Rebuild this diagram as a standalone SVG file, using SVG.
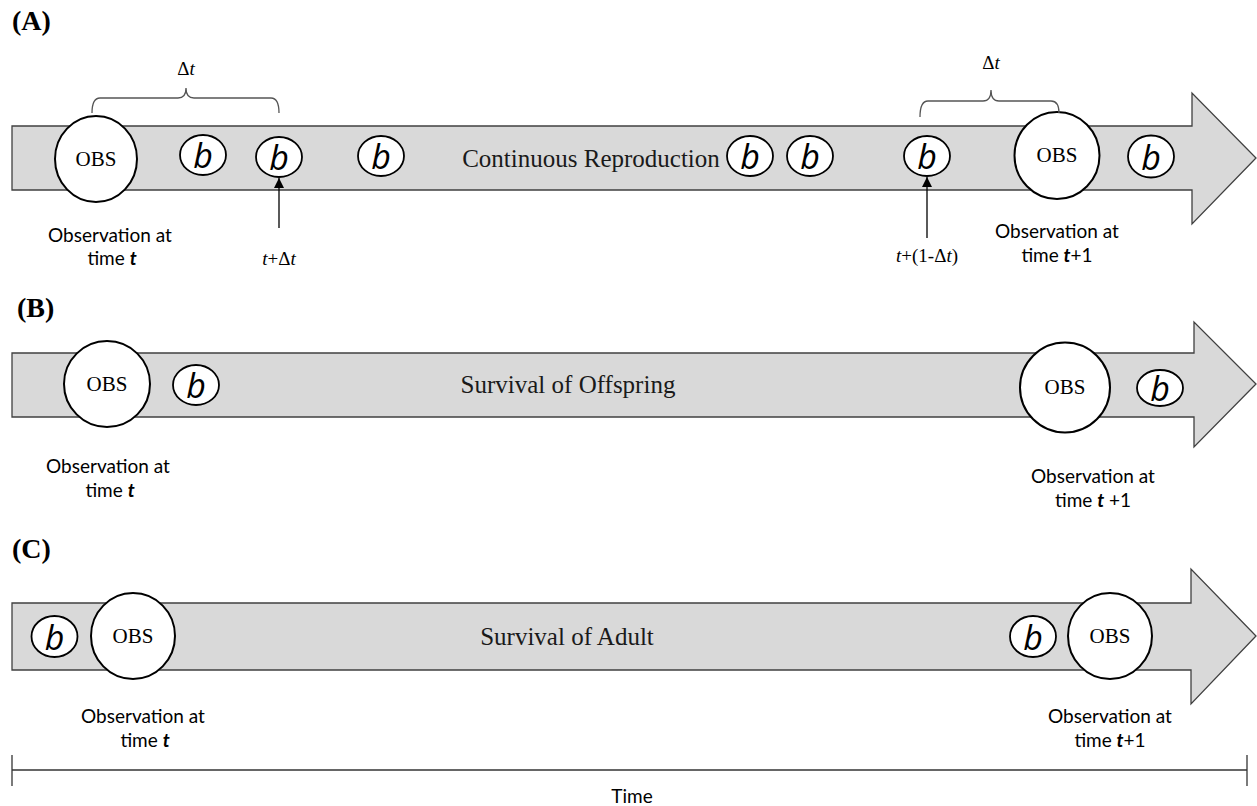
<svg xmlns="http://www.w3.org/2000/svg" width="1257" height="806" viewBox="0 0 1257 806">
<defs>
<style>
.band{fill:#d9d9d9;stroke:#404040;stroke-width:1.3}
.obs{fill:#fff;stroke:#000;stroke-width:2}
.bc{fill:#fff;stroke:#000;stroke-width:1.8}
.obst{font-family:"Liberation Serif",serif;font-size:21px;text-anchor:middle;fill:#000}
.bt{font-family:"Open Sans",sans-serif;font-style:italic;font-size:34px;text-anchor:middle;fill:#000}
.lbl{font-family:"Lato","Open Sans",sans-serif;font-size:19px;text-anchor:middle;fill:#000}
.ttl{font-family:"Liberation Serif",serif;font-size:25px;text-anchor:middle;fill:#1a1a1a}
.pn{font-family:"Liberation Serif",serif;font-weight:bold;font-size:28px;fill:#000}
.math{font-family:"Liberation Serif",serif;font-size:19px;text-anchor:middle;fill:#000}
.brace{fill:none;stroke:#555;stroke-width:1.3}
.conn{stroke:#000;stroke-width:1.3;fill:none}
</style>
<marker id="tri" viewBox="0 0 10 10" refX="10" refY="5" markerWidth="10" markerHeight="10" markerUnits="userSpaceOnUse" orient="auto">
<path d="M0,0 L10,5 L0,10 Z" fill="#000"/>
</marker>
</defs>
<rect width="1257" height="806" fill="#fff"/>

<!-- Panel labels -->
<text class="pn" x="12" y="30">(A)</text>
<text class="pn" x="17" y="317">(B)</text>
<text class="pn" x="12" y="558">(C)</text>

<!-- Band arrows -->
<g id="bandA"><path class="band" d="M12,126 L1192,126 L1192,93 L1256,158 L1192,224 L1192,190 L12,190 Z"/><text class="ttl" x="591" y="167">Continuous Reproduction</text></g>
<g id="bandB"><path class="band" d="M12,353 L1194,353 L1194,322 L1256,384 L1194,447 L1194,417 L12,417 Z"/><text class="ttl" x="568" y="393">Survival of Offspring</text></g>
<g id="bandC"><path class="band" d="M12,603 L1191,603 L1191,569 L1256,636 L1191,704 L1191,670 L12,670 Z"/><text class="ttl" x="567" y="645">Survival of Adult</text></g>

<!-- Panel A nodes -->
<g id="A-obs1"><ellipse class="obs" cx="96" cy="159" rx="41" ry="43"/><text class="obst" x="96" y="166">OBS</text></g>
<g id="A-b1"><ellipse class="bc" cx="203" cy="155" rx="23" ry="20"/><text class="bt" x="203" y="168">b</text></g>
<g id="A-b2"><ellipse class="bc" cx="279" cy="157" rx="23" ry="20"/><text class="bt" x="279" y="170">b</text></g>
<g id="A-b3"><ellipse class="bc" cx="381" cy="156" rx="23" ry="20"/><text class="bt" x="381" y="169">b</text></g>
<g id="A-b4"><ellipse class="bc" cx="750" cy="156" rx="23" ry="20"/><text class="bt" x="750" y="169">b</text></g>
<g id="A-b5"><ellipse class="bc" cx="810" cy="156" rx="23" ry="20"/><text class="bt" x="810" y="169">b</text></g>
<g id="A-b6"><ellipse class="bc" cx="927" cy="156" rx="23" ry="20"/><text class="bt" x="927" y="169">b</text></g>
<g id="A-obs2"><ellipse class="obs" cx="1057" cy="155.5" rx="42.5" ry="43.5"/><text class="obst" x="1057" y="162">OBS</text></g>
<g id="A-b7"><ellipse class="bc" cx="1151" cy="156.5" rx="23" ry="21"/><text class="bt" x="1151" y="169.5">b</text></g>

<g id="A-labels">
<text class="lbl" x="110" y="242">Observation at</text>
<text class="lbl" x="112" y="265">time <tspan font-weight="bold" font-style="italic">t</tspan></text>
<text class="lbl" x="1057" y="238">Observation at</text>
<text class="lbl" x="1057" y="262">time <tspan font-weight="bold" font-style="italic">t</tspan>+1</text>
<text class="math" x="186" y="75">Δ<tspan font-style="italic">t</tspan></text>
<text class="math" x="991" y="69">Δ<tspan font-style="italic">t</tspan></text>
<text class="math" x="279" y="265"><tspan font-style="italic">t</tspan>+Δ<tspan font-style="italic">t</tspan></text>
<text class="math" x="927" y="262"><tspan font-style="italic">t</tspan>+(1-Δ<tspan font-style="italic">t</tspan>)</text>
</g>

<!-- Panel B nodes -->
<g id="B-obs1"><ellipse class="obs" cx="107" cy="384" rx="43" ry="43"/><text class="obst" x="107" y="391">OBS</text></g>
<g id="B-b1"><ellipse class="bc" cx="196" cy="385" rx="23" ry="20"/><text class="bt" x="196" y="398">b</text></g>
<g id="B-obs2"><ellipse class="obs" cx="1065" cy="387.5" rx="45" ry="45"/><text class="obst" x="1065" y="394">OBS</text></g>
<g id="B-b2"><ellipse class="bc" cx="1160" cy="388" rx="23" ry="18"/><text class="bt" x="1160" y="401">b</text></g>
<g id="B-labels">
<text class="lbl" x="108" y="473">Observation at</text>
<text class="lbl" x="110" y="497">time <tspan font-weight="bold" font-style="italic">t</tspan></text>
<text class="lbl" x="1093" y="483">Observation at</text>
<text class="lbl" x="1093" y="507">time <tspan font-weight="bold" font-style="italic">t</tspan> +1</text>
</g>

<!-- Panel C nodes -->
<g id="C-b1"><ellipse class="bc" cx="54.5" cy="636.5" rx="23" ry="20.5"/><text class="bt" x="54.5" y="649.5">b</text></g>
<g id="C-obs1"><ellipse class="obs" cx="133" cy="636" rx="42" ry="43"/><text class="obst" x="133" y="643">OBS</text></g>
<g id="C-b2"><ellipse class="bc" cx="1033" cy="636.5" rx="23" ry="20.5"/><text class="bt" x="1033" y="649.5">b</text></g>
<g id="C-obs2"><ellipse class="obs" cx="1110" cy="636" rx="42" ry="43"/><text class="obst" x="1110" y="643">OBS</text></g>
<g id="C-labels">
<text class="lbl" x="143" y="723">Observation at</text>
<text class="lbl" x="145" y="747">time <tspan font-weight="bold" font-style="italic">t</tspan></text>
<text class="lbl" x="1110" y="723">Observation at</text>
<text class="lbl" x="1110" y="747">time <tspan font-weight="bold" font-style="italic">t</tspan>+1</text>
</g>

<!-- Connectors -->
<g id="connectors">
<path class="brace" d="M92,113 Q92,98 100,98 L178,98 Q186,98 186,88 Q186,98 194,98 L271,98 Q279,98 279,113"/>
<path class="brace" d="M920,117 Q920,101 928,101 L983,101 Q991,101 991,90 Q991,101 999,101 L1051,101 Q1059,101 1059,113"/>
<line class="conn" x1="279" y1="228" x2="279" y2="178" marker-end="url(#tri)"/>
<line class="conn" x1="927" y1="238" x2="927" y2="177" marker-end="url(#tri)"/>
</g>

<!-- Time axis -->
<g id="time-axis">
<line x1="12" y1="770" x2="1247" y2="770" stroke="#333" stroke-width="1.3"/>
<line x1="12" y1="755" x2="12" y2="786" stroke="#333" stroke-width="1.3"/>
<line x1="1247" y1="755" x2="1247" y2="786" stroke="#333" stroke-width="1.3"/>
<text class="lbl" x="632" y="803" font-size="20">Time</text>
</g>
</svg>
